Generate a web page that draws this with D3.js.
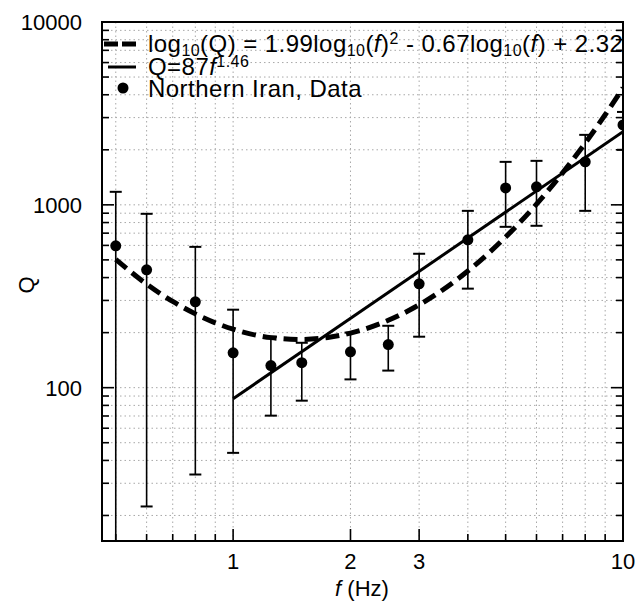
<!DOCTYPE html>
<html><head><meta charset="utf-8">
<script src="https://cdn.jsdelivr.net/npm/d3@7/dist/d3.min.js"></script>
<style>body{margin:0;background:#fff}svg{display:block;font-family:"Liberation Sans",Arial,sans-serif}</style>
</head><body><svg id="c" width="643" height="605"></svg>
<script>
// Data
const freq   = [0.5, 0.6, 0.8, 1.0, 1.25, 1.5, 2.0, 2.5, 3.0, 4.0, 5.0, 6.0, 8.0, 10.0];
const qObs   = [597, 441, 295, 155, 132, 137, 157, 172, 370, 644, 1238, 1254, 1718, 2736];
const qUpper = [1178, 893, 589, 267, 190, 176, 200, 218, 540, 927, 1718, 1740, 2414, 3222];
const qLower = [10, 22.4, 33.5, 44, 70.3, 84.9, 111, 124, 190, 348, 758, 768, 927, 2000];
// Dashed curve (polynomial fit)
const curveF = [0.5, 0.6, 0.7, 0.8, 0.9, 1.0, 1.25, 1.5, 1.75, 2.0, 2.5, 3.0, 4.0, 5.0, 6.0, 7.0, 8.0, 9.0, 10.0];
const curveQ = [503.5, 368.6, 296.1, 253.3, 226.3, 208.9, 187.8, 183.5, 188.2, 198.9, 233.6, 284.0, 434.4, 666.7, 1008.4, 1496, 2177, 3109, 4365];
// Power-law line Q = 87 f^1.46
const lineF = [1, 10];
const lineQ = [87, 2509];
const xTickLabels = [1, 2, 3, 10];
const yTickLabels = [100, 1000, 10000];
const xMinor = [0.5,0.6,0.7,0.8,0.9,1,2,3,4,5,6,7,8,9,10];
const yMinor = [20,30,40,50,60,70,80,90,100,200,300,400,500,600,700,800,900,1000,2000,3000,4000,5000,6000,7000,8000,9000];

const svg = d3.select("#c");
const L = 102, R = 623, T = 22, B = 541;
const x = d3.scaleLog().domain([0.461, 10]).range([L, R]);
const y = d3.scaleLog().domain([14.5, 10000]).range([B, T]);

svg.append("defs").append("clipPath").attr("id","clip")
  .append("rect").attr("x",L).attr("y",T).attr("width",R-L).attr("height",B-T);

// grid
const g = svg.append("g").attr("clip-path","url(#clip)");
g.selectAll(".gx").data(xMinor).join("line")
  .attr("x1",d=>x(d)).attr("x2",d=>x(d)).attr("y1",T).attr("y2",B)
  .attr("stroke","#a8a8a8").attr("stroke-width",1).attr("stroke-dasharray","1.5,3");
g.selectAll(".gy").data(yMinor).join("line")
  .attr("y1",d=>y(d)).attr("y2",d=>y(d)).attr("x1",L).attr("x2",R)
  .attr("stroke","#a8a8a8").attr("stroke-width",1).attr("stroke-dasharray","1.5,3");

// error bars
const eb = g.append("g").attr("stroke","#000").attr("stroke-width",1.6);
freq.forEach((f,i)=>{
  const cx = x(f);
  eb.append("line").attr("x1",cx).attr("x2",cx).attr("y1",y(qUpper[i])).attr("y2",y(qLower[i]));
  [qUpper[i], qLower[i]].forEach(v=>{
    eb.append("line").attr("x1",cx-6).attr("x2",cx+6).attr("y1",y(v)).attr("y2",y(v)).attr("stroke-width",2);
  });
});

// dashed curve
const lineGen = d3.line().x(d=>x(d[0])).y(d=>y(d[1])).curve(d3.curveMonotoneX);
g.append("path").datum(curveF.map((f,i)=>[f,curveQ[i]])).attr("d",lineGen)
  .attr("fill","none").attr("stroke","#000").attr("stroke-width",5).attr("stroke-dasharray","14,7");
// solid line
g.append("path").datum(lineF.map((f,i)=>[f,lineQ[i]])).attr("d",d3.line().x(d=>x(d[0])).y(d=>y(d[1])))
  .attr("fill","none").attr("stroke","#000").attr("stroke-width",3);

// points
g.selectAll(".pt").data(freq).join("circle")
  .attr("cx",d=>x(d)).attr("cy",(d,i)=>y(qObs[i])).attr("r",5.5).attr("fill","#000");

// frame
svg.append("rect").attr("x",L).attr("y",T).attr("width",R-L).attr("height",B-T)
  .attr("fill","none").attr("stroke","#000").attr("stroke-width",2);

// ticks
const tk = svg.append("g").attr("stroke","#000").attr("stroke-width",1.6);
yMinor.forEach(v=>{
  const major = yTickLabels.includes(v);
  const len = major ? 12 : 7;
  tk.append("line").attr("x1",L).attr("x2",L+len).attr("y1",y(v)).attr("y2",y(v));
  tk.append("line").attr("x1",R).attr("x2",R-len).attr("y1",y(v)).attr("y2",y(v));
});
xMinor.forEach(v=>{
  const major = xTickLabels.includes(v);
  const len = major ? 12 : 7;
  tk.append("line").attr("x1",x(v)).attr("x2",x(v)).attr("y1",B).attr("y2",B-len);
});

// tick labels
svg.selectAll(".yl").data(yTickLabels).join("text")
  .attr("x",82).attr("y",d=>y(d)).attr("dy","0.36em").attr("text-anchor","end")
  .attr("font-size",22).text(d=>d);
svg.selectAll(".xl").data(xTickLabels).join("text")
  .attr("x",d=>x(d)).attr("y",569).attr("text-anchor","middle")
  .attr("font-size",22).text(d=>d);

// axis titles
svg.append("text").attr("transform","translate(34,285) rotate(-90)").attr("text-anchor","middle")
  .attr("font-size",22).text("Q");
const xt = svg.append("text").attr("x",362).attr("y",596).attr("text-anchor","middle").attr("font-size",22);
xt.append("tspan").attr("font-style","italic").text("f");
xt.append("tspan").text(" (Hz)");

// legend
const lg = svg.append("g");
lg.append("line").attr("x1",104).attr("x2",136).attr("y1",44).attr("y2",44)
  .attr("stroke","#000").attr("stroke-width",5).attr("stroke-dasharray","14,4");
lg.append("line").attr("x1",108).attr("x2",136).attr("y1",67).attr("y2",67)
  .attr("stroke","#000").attr("stroke-width",3);
lg.append("circle").attr("cx",123).attr("cy",88).attr("r",5.5).attr("fill","#000");

function addRuns(t, runs){
  runs.forEach(r=>{
    const s = t.append("tspan").text(r.t);
    if(r.i) s.attr("font-style","italic");
    if(r.sub){ s.attr("font-size",16).attr("dy",4); }
    if(r.sup){ s.attr("font-size",16).attr("dy",-8); }
    if(r.back) s.attr("dy",r.back);
  });
}
const t1 = lg.append("text").attr("x",148).attr("y",52).attr("font-size",24).attr("letter-spacing",0.45);
addRuns(t1,[{t:"log"},{t:"10",sub:1},{t:"(Q) = 1.99log",back:-4},{t:"10",sub:1},{t:"(",back:-4},{t:"f",i:1},{t:")"},
  {t:"2",sup:1},{t:" - 0.67log",back:8},{t:"10",sub:1},{t:"(",back:-4},{t:"f",i:1},{t:") + 2.32"}]);
const t2 = lg.append("text").attr("x",148).attr("y",75).attr("font-size",24).attr("letter-spacing",0.45);
addRuns(t2,[{t:"Q=87"},{t:"f",i:1},{t:"1.46",sup:1}]);
lg.append("text").attr("x",148).attr("y",97).attr("font-size",24).attr("letter-spacing",0.45).text("Northern Iran, Data");
</script></body></html>
